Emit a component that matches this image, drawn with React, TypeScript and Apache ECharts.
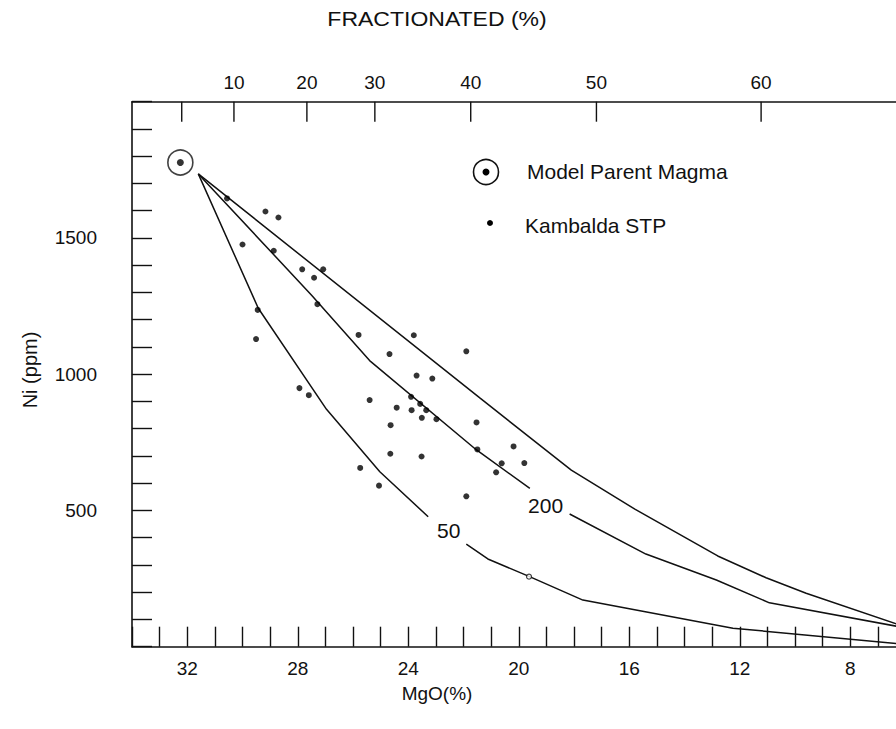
import React, { useEffect, useRef } from "react";
import * as echarts from "echarts";

const FONT = '"Liberation Sans", Arial, Helvetica, sans-serif';
const INK = "#111111";

// Axis tick labels
const mgoLabels = [32, 28, 24, 20, 16, 12, 8];
const niLabels = [500, 1000, 1500];
// Top (fractionated %) scale: MgO position of each tick and its label
const fractionatedMgO = [32.2, 30.31, 27.67, 25.21, 21.74, 17.19, 11.23];
const fractionatedLabels = ["", "10", "20", "30", "40", "50", "60"];

// Data: [MgO %, Ni ppm]
const parentMagma = [[32.25, 1777]];
const kambaldaSTP = [
  [30.56, 1645], [29.17, 1597], [28.7, 1575], [30.0, 1476], [28.87, 1453],
  [27.84, 1385], [27.08, 1385], [27.41, 1354], [27.29, 1257], [29.45, 1236],
  [29.51, 1129], [25.8, 1144], [23.8, 1143], [24.68, 1074], [21.9, 1084],
  [23.7, 995], [23.13, 984], [27.94, 949], [27.6, 923], [25.4, 905],
  [23.9, 917], [23.57, 891], [24.42, 877], [23.88, 868], [23.35, 868],
  [23.51, 840], [22.98, 835], [21.53, 823], [24.64, 813], [21.5, 724],
  [20.19, 735], [24.65, 708], [23.52, 698], [25.74, 656], [20.62, 673],
  [19.8, 674], [20.82, 640], [25.06, 591], [21.9, 552],
];
const kambaldaOpen = [[19.63, 257]];

// Model fractionation curves
const curveUpper = [
  [31.6, 1735], [21.4, 912], [18.1, 648], [15.8, 505], [12.8, 333],
  [11.05, 253], [9.6, 196], [6.0, 72],
];
const curve200a = [[31.6, 1735], [27.5, 1290], [25.4, 1050], [21.53, 722], [19.6, 581]];
const curve200b = [[18.16, 487], [15.4, 340], [12.85, 245], [10.93, 161], [6.0, 69]];
const curve50a = [[31.6, 1735], [29.43, 1242], [26.96, 871], [25.03, 642], [23.28, 477]];
const curve50b = [[21.9, 376], [21.12, 322], [19.61, 257], [17.68, 171], [12.25, 68], [6.0, 8]];
const curveLabelText = ["200", "50"];
const curveLabelAt = [[19.03, 520], [22.54, 428]];

const lineSeries = (data: number[][]) => ({
  type: "line",
  data,
  symbol: "none",
  showSymbol: false,
  silent: true,
  z: 2,
  lineStyle: { color: INK, width: 1.5 },
});

const textStyle = (size: number) => ({ fontSize: size, fontFamily: FONT, fill: INK });

export default function App() {
  const ref = useRef<HTMLDivElement>(null);
  useEffect(() => {
    const chart = echarts.init(ref.current!, null, { renderer: "svg" });
    const axisLine = { show: true, onZero: false, lineStyle: { color: INK, width: 1.6 } };
    const option: any = {
      animation: false,
      backgroundColor: "#ffffff",
      grid: { left: 132, top: 101.7, right: 6.4, bottom: 82.3, show: false },
      xAxis: [
        {
          type: "value", min: 6, max: 34, interval: 1, inverse: true, position: "bottom",
          axisLine,
          axisTick: { show: true, inside: true, length: 20, lineStyle: { color: INK, width: 1.4 } },
          axisLabel: {
            margin: 12, color: INK, fontSize: 19, fontFamily: FONT,
            formatter: (v: number) => (mgoLabels.includes(Math.round(v)) ? String(Math.round(v)) : ""),
          },
          splitLine: { show: false },
        },
        {
          type: "value", min: 6, max: 34, inverse: true, position: "top",
          axisLine, axisTick: { show: false }, axisLabel: { show: false }, splitLine: { show: false },
        },
      ],
      yAxis: [
        {
          type: "value", min: 0, max: 2000, interval: 100, position: "left",
          axisLine,
          axisTick: { show: true, inside: true, length: 20, lineStyle: { color: INK, width: 1.4 } },
          axisLabel: {
            margin: 35, color: INK, fontSize: 19, fontFamily: FONT,
            formatter: (v: number) => (niLabels.includes(Math.round(v)) ? String(Math.round(v)) : ""),
          },
          splitLine: { show: false },
        },
        {
          type: "value", min: 0, max: 2000, position: "right",
          axisLine, axisTick: { show: false }, axisLabel: { show: false }, splitLine: { show: false },
        },
      ],
      series: [
        lineSeries(curveUpper),
        lineSeries(curve200a),
        lineSeries(curve200b),
        lineSeries(curve50a),
        lineSeries(curve50b),
        {
          type: "custom",
          clip: false,
          silent: true,
          data: curveLabelAt,
          renderItem: (params: any, api: any) => {
            const p = api.coord([api.value(0), api.value(1)]);
            return {
              type: "text",
              x: p[0],
              y: p[1],
              style: {
                text: curveLabelText[params.dataIndex], ...textStyle(21),
                align: "center", verticalAlign: "middle",
              },
            };
          },
          z: 3,
        },
        {
          type: "scatter", data: kambaldaSTP, symbol: "circle", symbolSize: 6,
          itemStyle: { color: "#000000" }, silent: true, z: 4,
        },
        {
          type: "scatter", data: kambaldaOpen, symbol: "circle", symbolSize: 5,
          itemStyle: { color: "#ffffff", borderColor: INK, borderWidth: 1.2 }, silent: true, z: 4,
        },
        {
          type: "scatter", data: parentMagma, symbol: "circle", symbolSize: 25,
          itemStyle: { color: "transparent", borderColor: INK, borderWidth: 1.6 }, silent: true, z: 4,
        },
        {
          type: "scatter", data: parentMagma, symbol: "circle", symbolSize: 7,
          itemStyle: { color: "#000000" }, silent: true, z: 5,
        },
        {
          type: "custom",
          clip: false,
          silent: true,
          data: fractionatedMgO.map((m) => [m, 2000]),
          renderItem: (params: any, api: any) => {
            const p = api.coord([api.value(0), 2000]);
            const label = fractionatedLabels[params.dataIndex];
            return {
              type: "group",
              children: [
                {
                  type: "line",
                  shape: { x1: p[0], y1: p[1], x2: p[0], y2: p[1] + 20 },
                  style: { stroke: INK, lineWidth: 1.4 },
                },
                {
                  type: "text",
                  x: p[0],
                  y: p[1] - 19,
                  style: { text: label, ...textStyle(19), align: "center", verticalAlign: "middle" },
                },
              ],
            };
          },
          z: 5,
        },
      ],
      graphic: [
        { type: "circle", shape: { cx: 486, cy: 172, r: 12.5 }, style: { fill: "none", stroke: INK, lineWidth: 1.6 } },
        { type: "circle", shape: { cx: 486, cy: 172, r: 3.5 }, style: { fill: "#000" } },
        { type: "text", x: 527, y: 172, scaleX: 1.05, style: { text: "Model Parent Magma", ...textStyle(20), align: "left", verticalAlign: "middle" } },
        { type: "circle", shape: { cx: 490, cy: 223, r: 3 }, style: { fill: "#000" } },
        { type: "text", x: 525, y: 226, scaleX: 1.05, style: { text: "Kambalda STP", ...textStyle(20), align: "left", verticalAlign: "middle" } },
        { type: "text", x: 437, y: 20, scaleX: 1.18, style: { text: "FRACTIONATED (%)", ...textStyle(19.5), align: "center", verticalAlign: "middle" } },
        { type: "text", x: 437, y: 693, style: { text: "MgO(%)", ...textStyle(19), align: "center", verticalAlign: "middle" } },
        {
          type: "text", x: 30, y: 370, rotation: Math.PI / 2,
          style: { text: "Ni (ppm)", ...textStyle(20), align: "center", verticalAlign: "middle" },
        },
      ],
    };
    chart.setOption(option);
    return () => chart.dispose();
  }, []);
  return (
    <div style={{ position: "fixed", left: 0, top: 0, width: 896, height: 729, overflow: "hidden", background: "#fff" }}>
      <div ref={ref} style={{ width: 912, height: 729 }} />
    </div>
  );
}
